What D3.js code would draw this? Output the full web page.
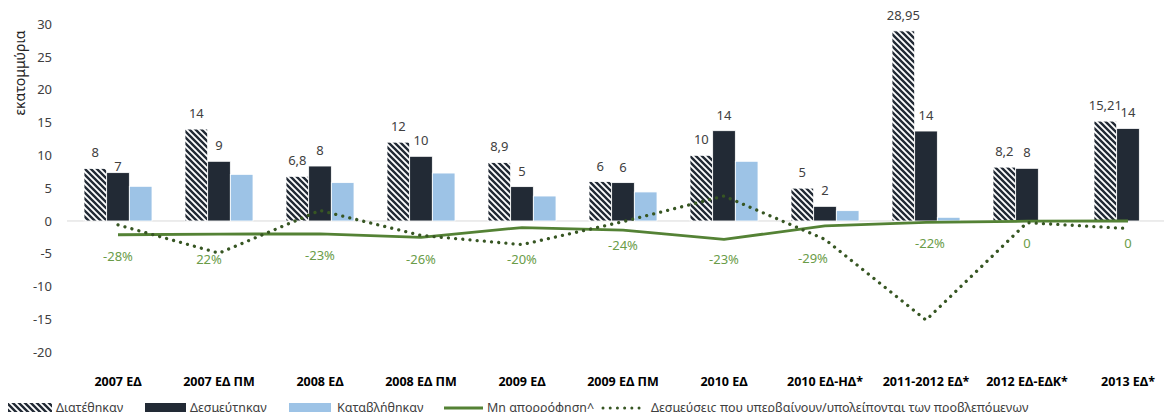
<!DOCTYPE html>
<html>
<head>
<meta charset="utf-8">
<script src="https://cdn.jsdelivr.net/npm/d3@7"></script>
<style>
  html, body { margin: 0; padding: 0; background: #fff; }
  svg { display: block; font-family: "Noto Sans", "Open Sans", sans-serif; }
</style>
</head>
<body>
<div id="chart"></div>
<script>
let width = 1164
  , height = 412;

// values (millions)
let categories = ["2007 ΕΔ", "2007 ΕΔ ΠΜ", "2008 ΕΔ", "2008 ΕΔ ΠΜ", "2009 ΕΔ", "2009 ΕΔ ΠΜ",
  "2010 ΕΔ", "2010 ΕΔ-ΗΔ*", "2011-2012 ΕΔ*", "2012 ΕΔ-ΕΔΚ*", "2013 ΕΔ*"];
let allocated = [8, 14, 6.8, 12, 8.9, 6, 10, 5, 28.95, 8.2, 15.21];
let committed = [7.36, 9.09, 8.37, 9.85, 5.23, 5.84, 13.75, 2.23, 13.7, 8.02, 14.1];
let paid = [5.28, 7.1, 5.84, 7.3, 3.8, 4.42, 9.09, 1.57, 0.56, 0, 0];
let nonAbsorption = [-2.1, -2.0, -1.95, -2.5, -1.0, -1.4, -2.8, -0.75, -0.22, -0.03, 0];
let deviation = [-0.6, -4.9, 1.6, -2.2, -3.6, -0.1, 3.8, -2.8, -15.1, -0.25, -1.15];
let pctLabels = ["-28%", "22%", "-23%", "-26%", "-20%", "-24%", "-23%", "-29%", "-22%", "0", "0"];
// value at which each percentage label sits
let pctLabelAt = [-5.4, -5.9, -5.3, -5.9, -5.9, -3.8, -5.9, -5.7, -3.4, -3.4, -3.4];
let yTicks = [-20, -15, -10, -5, 0, 5, 10, 15, 20, 25, 30];
let legendNames = ["Διατέθηκαν", "Δεσμεύτηκαν", "Καταβλήθηκαν", "Μη απορρόφηση^",
  "Δεσμεύσεις που υπερβαίνουν/υπολείπονται των προβλεπόμενων"];

// small horizontal nudges of some percentage labels (px)
let pctNudge = [0, -10, 0, 0, 0, 0, 0, -12, 4, 0, 0];

let colDark = "#222a35"
  , colLight = "#9dc3e6"
  , colGreen = "#548235"
  , colDots = "#375623"
  , colPct = "#6a9c48";

let svg = d3.select("#chart").append("svg").attr("width", width).attr("height", height);

let defs = svg.append("defs");
let pat = defs.append("pattern").attr("id", "hatch")
  .attr("patternUnits", "userSpaceOnUse").attr("width", 6).attr("height", 6);
pat.append("rect").attr("width", 6).attr("height", 6).attr("fill", "#fff");
pat.append("path").attr("d", "M-1,-1 L7,7 M-4,2 L2,8 M4,-2 L8,2")
  .attr("stroke", colDark).attr("stroke-width", 2.4);

var x = d3.scaleBand().domain(categories).range([67.5, 1178.5]);
var y = d3.scaleLinear().domain([-20, 30]).range([352.3, 24]);
var inner = d3.scaleBand().domain(["allocated", "committed", "paid"])
  .range([0, 68]);
let groupOff = (x.bandwidth() - 68) / 2;

// zero line
svg.append("line")
  .attr("x1", 67).attr("x2", width)
  .attr("y1", y(0)).attr("y2", y(0))
  .attr("stroke", "#d9d9d9").attr("stroke-width", 1);

// y axis labels
let yAxis = svg.append("g").attr("transform", "translate(67,0)")
  .call(d3.axisLeft(y).tickValues(yTicks).tickFormat(d => String(d)).tickSize(0).tickPadding(15));
yAxis.select(".domain").remove();
yAxis.selectAll("text").attr("font-size", 13).attr("fill", "#404040")
  .style("font-family", "\"Noto Sans\", sans-serif");

svg.append("text")
  .attr("transform", "translate(25,73) rotate(-90)")
  .attr("text-anchor", "middle")
  .attr("font-size", 14).attr("fill", "#222")
  .text("εκατομμύρια");

// bars
let series = [
  {key: "allocated", values: allocated, fill: "url(#hatch)"},
  {key: "committed", values: committed, fill: colDark},
  {key: "paid", values: paid, fill: colLight}
];

series.forEach(s => {
  svg.append("g").selectAll("rect")
    .data(s.values.map((v, i) => ({v: v, c: categories[i]})))
    .enter().append("rect")
    .attr("x", d => x(d.c) + groupOff + inner(s.key))
    .attr("width", inner.bandwidth())
    .attr("y", d => y(Math.max(0, d.v)))
    .attr("height", d => Math.abs(y(d.v) - y(0)))
    .attr("fill", s.fill)
    .attr("stroke", d => d.v > 0 ? "#fff" : "none")
    .attr("stroke-width", 0.8);
});

// bar value labels
let labelSeries = [
  {key: "allocated", values: allocated, fmt: v => String(v).replace(".", ",")},
  {key: "committed", values: committed, fmt: v => String(Math.round(v))}
];
labelSeries.forEach(s => {
  svg.append("g").selectAll("text")
    .data(s.values.map((v, i) => ({v: v, c: categories[i], i: i})))
    .enter().append("text")
    .attr("x", d => x(d.c) + groupOff + inner(s.key) + inner.bandwidth() / 2)
    .attr("y", d => y(d.v) - ((s.key == "committed" && d.i == 0) ? 6.7 : 15.6))
    .attr("dy", "0.35em")
    .attr("text-anchor", "middle")
    .attr("font-size", 13).attr("fill", "#404040")
    .text(d => s.fmt(d.v));
});

// lines
let cx = c => x(c) + x.bandwidth() / 2;
let line = d3.line().x(d => cx(d.c)).y(d => y(d.v));

svg.append("path")
  .datum(nonAbsorption.map((v, i) => ({v: v, c: categories[i]})))
  .attr("d", line)
  .attr("fill", "none").attr("stroke", colGreen).attr("stroke-width", 2.8)
  .attr("stroke-linejoin", "round");

svg.append("path")
  .datum(deviation.map((v, i) => ({v: v, c: categories[i]})))
  .attr("d", line)
  .attr("fill", "none").attr("stroke", colDots).attr("stroke-width", 3.3)
  .attr("stroke-linecap", "round").attr("stroke-dasharray", "0.01 7.2");

// percentage labels
svg.append("g").selectAll("text")
  .data(pctLabels.map((t, i) => ({t: t, c: categories[i], i: i})))
  .enter().append("text")
  .attr("x", d => cx(d.c) + pctNudge[d.i])
  .attr("y", d => y(pctLabelAt[d.i]))
  .attr("dy", "0.35em")
  .attr("text-anchor", "middle")
  .attr("font-size", 13).attr("fill", colPct)
  .text(d => d.t);

// category labels
svg.append("g").selectAll("text")
  .data(categories).enter().append("text")
  .attr("x", d => cx(d))
  .attr("y", 382)
  .attr("dy", "0.35em")
  .attr("text-anchor", "middle")
  .attr("font-size", 12.5).attr("font-weight", "bold").attr("fill", "#000")
  .text(d => d);

// legend (cut by the bottom edge, as in the picture)
let lg = svg.append("g");
let legendItems = [
  {x: 8, w: 44, kind: "rect", fill: "url(#hatch)", tx: 56},
  {x: 145, w: 41, kind: "rect", fill: colDark, tx: 190},
  {x: 289, w: 42, kind: "rect", fill: colLight, tx: 337},
  {x: 444, w: 39, kind: "line", stroke: colGreen, tx: 487},
  {x: 603, w: 40, kind: "dots", stroke: colDots, tx: 651}
];
legendItems.forEach((it, i) => {
  if (it.kind == "rect") {
    lg.append("rect").attr("x", it.x).attr("y", 403).attr("width", it.w).attr("height", 10)
      .attr("fill", it.fill);
  } else {
    let l = lg.append("line").attr("x1", it.x).attr("x2", it.x + it.w)
      .attr("y1", 408).attr("y2", 408).attr("stroke", it.stroke).attr("stroke-width", 3);
    if (it.kind == "dots") {
      l.attr("stroke-linecap", "round").attr("stroke-dasharray", "0.01 7.2");
    }
  }
  lg.append("text").attr("x", it.tx).attr("y", 411.5)
    .attr("font-size", 12.5).attr("fill", "#404040")
    .text(legendNames[i]);
});
</script>
</body>
</html>
